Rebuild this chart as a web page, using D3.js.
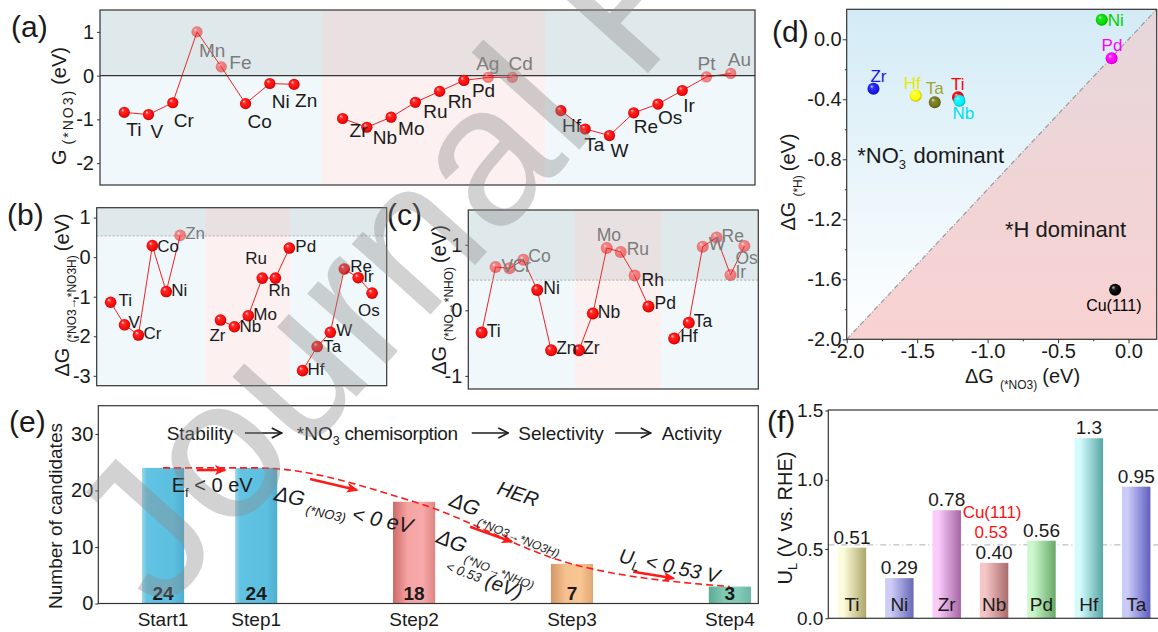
<!DOCTYPE html>
<html><head><meta charset="utf-8">
<script src="https://cdn.jsdelivr.net/npm/d3@7"></script>
<style>
body{margin:0;background:#fff;}
svg{display:block;font-family:"Liberation Sans",Arial,sans-serif;}
</style></head><body>
<svg id="chart" width="1158" height="632"></svg>
<script>
// ================= DATA =================
// (a) G(*NO3)
const aNames3d = ["Ti","V","Cr","Mn","Fe","Co","Ni","Zn"];
const aVals3d  = [-0.84,-0.89,-0.62,1.00,0.20,-0.64,-0.18,-0.20];
const aPos3d   = [0,1,2,3,4,5,6,7];
const aNames4d = ["Zr","Nb","Mo","Ru","Rh","Pd","Ag","Cd"];
const aVals4d  = [-0.98,-1.18,-0.95,-0.61,-0.36,-0.11,-0.04,-0.04];
const aPos4d   = [9,10,11,12,13,14,15,16];
const aNames5d = ["Hf","Ta","W","Re","Os","Ir","Pt","Au"];
const aVals5d  = [-0.80,-1.22,-1.37,-0.85,-0.65,-0.34,-0.03,0.05];
const aPos5d   = [18,19,20,21,22,23,24,25];
const aFaded   = ["Mn","Fe","Ag","Cd","Pt","Au"];
const aFadedLabels = ["Mn","Fe","Ag","Cd","Pt","Au"];
const aTicks   = [-2,-1,0,1];

// (b) dG(*NO3 -> *NO3H)
const bNames3d = ["Ti","V","Cr","Co","Ni","Zn"];
const bVals3d  = [-1.14,-1.71,-1.97,0.29,-0.87,0.55];
const bPos3d   = [0,1,2,3,4,5];
const bNames4d = ["Zr","Nb","Mo","Ru","Rh","Pd"];
const bVals4d  = [-1.59,-1.76,-1.48,-0.53,-0.53,0.23];
const bPos4d   = [7.9,8.9,9.9,10.9,11.85,12.85];
const bNames5d = ["Hf","Ta","W","Re","Ir","Os"];
const bVals5d  = [-2.87,-2.26,-1.90,-0.30,-0.52,-0.91];
const bPos5d   = [13.8,14.85,15.8,16.8,17.8,18.8];
const bFaded   = ["Zn"];
const bFadedLabels = ["Zn"];
const bTicks   = [-3,-2,-1,0,1];

// (c) dG(*NO -> *NHO)
const cNames3d = ["Ti","V","Cr","Co","Ni","Zn"];
const cVals3d  = [-0.34,0.66,0.64,0.77,0.31,-0.61];
const cPos3d   = [0,1,2,3,4,5];
const cNames4d = ["Zr","Nb","Mo","Ru","Rh","Pd"];
const cVals4d  = [-0.61,-0.05,0.95,0.89,0.53,0.06];
const cPos4d   = [7,8,9,10,11,12];
const cNames5d = ["Hf","Ta","W","Re","Ir","Os"];
const cVals5d  = [-0.43,-0.19,0.97,1.11,0.54,0.98];
const cPos5d   = [13.85,14.9,15.9,16.9,17.9,18.9];
const cFaded   = ["V","Cr","Co","Mo","Ru","Rh","W","Re","Ir","Os"];
const cFadedLabels = ["V","Cr","Co","Mo","Ru","W","Re","Ir","Os"];
const cTicks   = [-1,0,1];

// (d) dG(*NO3) vs dG(*H)
const dNames  = ["Zr","Hf","Ta","Ti","Nb","Ni","Pd","Cu(111)"];
const dXvals  = [-1.81,-1.51,-1.375,-1.21,-1.20,-0.19,-0.12,-0.095];
const dYvals  = [-0.33,-0.376,-0.42,-0.387,-0.41,0.13,-0.127,-1.67];
const dColors = ["#1818f0","#ffff00","#77771a","#ff0000","#00f0ff","#00e000","#ff00ff","#000000"];
const dLabelColors = ["#1818f0","#e8e800","#a3a336","#ff0000","#00e0f0","#00d000","#ff00ff","#000000"];
const dXTicks = [-2.0,-1.5,-1.0,-0.5,0.0];
const dYTicks = [-2.0,-1.6,-1.2,-0.8,-0.4,0.0];

// (e) screening funnel
const eCats   = ["Start1","Step1","Step2","Step3","Step4"];
const ePos    = [0.41,1,2,3,4];
const eVals   = [24,24,18,7,3];
const eTicks  = [0,10,20,30];

// (f) limiting potentials
const fNames  = ["Ti","Ni","Zr","Nb","Pd","Hf","Ta"];
const fVals   = [0.51,0.29,0.78,0.40,0.56,1.3,0.95];
const fLabels = ["0.51","0.29","0.78","0.40","0.56","1.3","0.95"];
const fRef    = 0.53;
const fTicks  = [0.0,0.5,1.0,1.5];

// ================= LAYOUT / STYLE =================
const aLab = {Ti:[2,24],V:[2,23],Cr:[1,24],Mn:[2,25],Fe:[8,2],Co:[2,24],Ni:[2,24],Zn:[1,23],
  Zr:[7,18],Nb:[6,17],Mo:[7,18],Ru:[8,16],Rh:[8,17],Pd:[8,17],Ag:[-12,-7],Cd:[-4,-7],
  Hf:[1,21],Ta:[-1,22],W:[1,21],Re:[0,20],Os:[0,20],Ir:[1,21],Pt:[-9,-7],Au:[-3,-7]};
const bLab = {Ti:[8,4],V:[4,3],Cr:[5,4],Co:[5,6],Ni:[5,4],Zn:[5,4],Zr:[-11,21],Nb:[5,5],Mo:[5,4],
  Ru:[-17,-14],Rh:[-7,18],Pd:[6,4],Hf:[5,4],Ta:[6,5],W:[6,4],Re:[6,3],Ir:[5,4],Os:[-14,23]};
const cLab = {Ti:[5,4],V:[6,5],Cr:[3,4],Co:[5,2],Ni:[6,4],Zn:[5,4],Zr:[4,4],Nb:[5,4],Mo:[-10,-7],
  Ru:[6,3],Rh:[7,10],Pd:[6,3],Hf:[6,3],Ta:[5,4],W:[6,3],Re:[5,4],Ir:[5,3],Os:[-9,18]};
const dLab = [[-3,-7],[-12,-7],[-9,-8],[-7,-7],[-7,18],[6,6],[-10,-7],[-29,21]];

const W = 1158, H = 632;
const svg = d3.select("#chart");
const defs = svg.append("defs");
svg.append("rect").attr("width", W).attr("height", H).attr("fill", "#fff");
const TXT = "#1a1a1a";

const gradDone = {};
function ball(color){
  const key = "ball" + color.replace(/[^0-9a-z]/gi, "");
  if(!gradDone[key]){
    const g = defs.append("radialGradient").attr("id", key)
      .attr("cx","50%").attr("cy","50%").attr("r","55%").attr("fx","33%").attr("fy","28%");
    g.append("stop").attr("offset","0%").attr("stop-color", d3.interpolateRgb(color,"#fff")(0.85));
    g.append("stop").attr("offset","28%").attr("stop-color", d3.interpolateRgb(color,"#fff")(0.12));
    g.append("stop").attr("offset","70%").attr("stop-color", color);
    g.append("stop").attr("offset","100%").attr("stop-color", d3.color(color).darker(1.1).formatHex());
    gradDone[key] = true;
  }
  return `url(#${key})`;
}
function hGrad(id, stops){
  const g = defs.append("linearGradient").attr("id", id).attr("x1","0%").attr("x2","100%").attr("y1","0%").attr("y2","0%");
  stops.forEach(([o,c]) => g.append("stop").attr("offset", o).attr("stop-color", c));
  return `url(#${id})`;
}
function vGrad(id, stops){
  const g = defs.append("linearGradient").attr("id", id).attr("x1","0%").attr("x2","0%").attr("y1","0%").attr("y2","100%");
  stops.forEach(([o,c]) => g.append("stop").attr("offset", o).attr("stop-color", c));
  return `url(#${id})`;
}
function rich(sel, parts){
  parts.forEach(p => {
    const ts = sel.append("tspan").text(p.t).attr("font-size", p.s);
    if(p.dy) ts.attr("dy", p.dy);
    if(p.dx) ts.attr("dx", p.dx);
    if(p.it) ts.attr("font-style", "italic");
    if(p.ls) ts.attr("letter-spacing", p.ls);
    if(p.fw) ts.attr("font-weight", p.fw);
  });
  return sel;
}
function yLabel(x, yc, parts){
  const t = svg.append("text").attr("transform", `translate(${x},${yc}) rotate(-90)`)
    .attr("text-anchor","middle").attr("fill", TXT);
  rich(t, parts);
}
function panelLetter(txt, x, y){
  svg.append("text").attr("x", x).attr("y", y).attr("font-size", 30).attr("fill", TXT).text(txt);
}
function styleAxis(g, fs){
  g.select(".domain").remove();
  g.selectAll(".tick line").attr("stroke", "#333");
  g.selectAll(".tick text").attr("font-size", fs).attr("fill", TXT)
    .attr("font-family", '"Liberation Sans", Arial, sans-serif');
}

// ================= ELEMENT PANELS (a),(b),(c) =================
function elemPanel(cfg){
  const x = d3.scaleLinear().domain(cfg.xDomain).range([cfg.left, cfg.right]);
  const y = d3.scaleLinear().domain(cfg.yDomain).range([cfg.bottom, cfg.top]);
  const g = svg.append("g");
  const bounds = [cfg.xDomain[0], ...cfg.sections, cfg.xDomain[1]];
  const secColors = ["#f0f8fc", "#fcf0f0", "#f0f8fc"];
  for(let i = 0; i < 3; i++){
    g.append("rect").attr("x", x(bounds[i])).attr("y", cfg.top)
      .attr("width", x(bounds[i+1]) - x(bounds[i])).attr("height", cfg.bottom - cfg.top)
      .attr("fill", secColors[i]);
  }
  const groups = cfg.groups.map(gr => gr.names.map((n,i) => ({n, x: gr.pos[i], v: gr.vals[i],
    faded: cfg.faded.includes(n), fadedLab: cfg.fadedLabels.includes(n)})));
  groups.forEach(pts => {
    g.append("path").datum(pts)
      .attr("d", d3.line().x(d => x(d.x)).y(d => y(d.v)))
      .attr("fill","none").attr("stroke","#f42020").attr("stroke-width", 1);
  });
  g.append("rect").attr("x", cfg.left).attr("y", cfg.top)
    .attr("width", cfg.right - cfg.left).attr("height", y(cfg.threshold) - cfg.top)
    .attr("fill", "#7f8a8a").attr("opacity", 0.15);
  const th = g.append("line").attr("x1", cfg.left).attr("x2", cfg.right)
    .attr("y1", y(cfg.threshold)).attr("y2", y(cfg.threshold));
  if(cfg.solidThreshold) th.attr("stroke", "#333").attr("stroke-width", 1.2);
  else th.attr("stroke", "#b8b8b8").attr("stroke-width", 1.2).attr("stroke-dasharray", "2,2");
  const all = groups.flat();
  g.selectAll("circle.pt").data(all).join("circle").attr("class","pt")
    .attr("cx", d => x(d.x)).attr("cy", d => y(d.v)).attr("r", cfg.r)
    .attr("fill", ball("#ff0a0a")).attr("opacity", d => d.faded ? 0.5 : 1);
  g.selectAll("text.lb").data(all).join("text").attr("class","lb")
    .attr("x", d => x(d.x) + cfg.lab[d.n][0]).attr("y", d => y(d.v) + cfg.lab[d.n][1])
    .attr("font-size", cfg.fs).attr("fill", d => d.fadedLab ? "#7c7c7c" : TXT).text(d => d.n);
  g.append("rect").attr("x", cfg.left).attr("y", cfg.top)
    .attr("width", cfg.right - cfg.left).attr("height", cfg.bottom - cfg.top)
    .attr("fill","none").attr("stroke","#333").attr("stroke-width", 1.2);
  const ax = g.append("g").attr("transform", `translate(${cfg.left},0)`)
    .call(d3.axisLeft(y).tickValues(cfg.ticks).tickSize(3).tickPadding(3).tickFormat(d => String(d)));
  styleAxis(ax, 20);
}

elemPanel({left:100, right:755, top:10, bottom:185, xDomain:[-1,26], yDomain:[-2.5,1.5],
  sections:[8.15,17.37], threshold:0, solidThreshold:true, r:5.6, fs:19, lab:aLab, ticks:aTicks,
  faded:aFaded, fadedLabels:aFadedLabels,
  groups:[{names:aNames3d,vals:aVals3d,pos:aPos3d},{names:aNames4d,vals:aVals4d,pos:aPos4d},{names:aNames5d,vals:aVals5d,pos:aPos5d}]});
elemPanel({left:96.7, right:386.7, top:207.7, bottom:385.7, xDomain:[-1,19.85], yDomain:[-3.25,1.25],
  sections:[6.8,12.95], threshold:0.54, solidThreshold:false, r:5.8, fs:17, lab:bLab, ticks:bTicks,
  faded:bFaded, fadedLabels:bFadedLabels,
  groups:[{names:bNames3d,vals:bVals3d,pos:bPos3d},{names:bNames4d,vals:bVals4d,pos:bPos4d},{names:bNames5d,vals:bVals5d,pos:bPos5d}]});
elemPanel({left:468.3, right:758.3, top:210, bottom:389, xDomain:[-0.96,19.9], yDomain:[-1.2,1.53],
  sections:[6.71,12.95], threshold:0.46, solidThreshold:false, r:6, fs:17.5, lab:cLab, ticks:cTicks,
  faded:cFaded, fadedLabels:cFadedLabels,
  groups:[{names:cNames3d,vals:cVals3d,pos:cPos3d},{names:cNames4d,vals:cVals4d,pos:cPos4d},{names:cNames5d,vals:cVals5d,pos:cPos5d}]});

panelLetter("(a)", 11, 37);
panelLetter("(b)", 7, 225);
panelLetter("(c)", 387, 225);
yLabel(66, 106, [{t:"G",s:20},{t:"(*NO3)",s:14,dx:5,dy:7,ls:2},{t:"(eV)",s:20,dx:4,dy:-7}]);
yLabel(69, 295, [{t:"ΔG",s:20},{t:"(*NO3→*NO3H)",s:12,dx:5,dy:7},{t:"(eV)",s:20,dx:4,dy:-7}]);
yLabel(446, 300, [{t:"ΔG",s:20},{t:"(*NO→*NHO)",s:12,dx:5,dy:7},{t:"(eV)",s:20,dx:4,dy:-7}]);

// ================= (d) =================
(function(){
  const L = 846.7, R = 1156.7, T = 9.3, B = 339.3;
  const x = d3.scaleLinear().domain([-2, 0.2]).range([L, R]);
  const y = d3.scaleLinear().domain([-2, 0.2]).range([B, T]);
  const g = svg.append("g");
  const [x0, x1] = x.domain(), [y0, y1] = y.domain();
  g.append("rect").attr("x", L).attr("y", T).attr("width", R - L).attr("height", B - T)
    .attr("fill", vGrad("dBlue", [["0%","#d3ebf6"],["100%","#ffffff"]]));
  const tri = [[x0,y0],[x1,y0],[x1,y1]];
  g.append("path").attr("d", d3.line().x(d => x(d[0])).y(d => y(d[1]))(tri) + "Z")
    .attr("fill", vGrad("dPink", [["0%","#e6d7db"],["100%","#f9d2d2"]]));
  g.append("line").attr("x1", x(x0)).attr("y1", y(y0)).attr("x2", x(x1)).attr("y2", y(y1))
    .attr("stroke", "#9a9a9a").attr("stroke-width", 1.2).attr("stroke-dasharray", "5,2,1,2");
  const pts = dNames.map((n,i) => ({n, x: dXvals[i], y: dYvals[i], c: dColors[i], lc: dLabelColors[i], off: dLab[i]}));
  g.selectAll("circle").data(pts).join("circle")
    .attr("cx", d => x(d.x)).attr("cy", d => y(d.y)).attr("r", 6).attr("fill", d => ball(d.c));
  g.selectAll("text.lb").data(pts).join("text").attr("class","lb")
    .attr("x", d => x(d.x) + d.off[0]).attr("y", d => y(d.y) + d.off[1])
    .attr("font-size", d => d.n === "Cu(111)" ? 16 : 17).attr("fill", d => d.lc).text(d => d.n);
  const t1 = g.append("text").attr("x", 857.3).attr("y", 162.7).attr("fill", TXT);
  rich(t1, [{t:"*NO",s:22},{t:"3",s:13,dy:6},{t:"-",s:13,dx:-7,dy:-15},{t:" dominant",s:22,dx:4,dy:9}]);
  g.append("text").attr("x", 1005).attr("y", 236.7).attr("font-size", 22).attr("fill", TXT).text("*H dominant");
  g.append("rect").attr("x", L).attr("y", T).attr("width", R - L).attr("height", B - T)
    .attr("fill","none").attr("stroke","#333").attr("stroke-width",1.2);
  const ay = g.append("g").attr("transform", `translate(${L},0)`)
    .call(d3.axisLeft(y).tickValues(dYTicks).tickSize(4).tickPadding(1).tickFormat(d => d.toFixed(1)));
  styleAxis(ay, 20);
  const ay2 = g.append("g").attr("transform", `translate(${L},0)`)
    .call(d3.axisLeft(y).tickValues([-1.8,-1.4,-1.0,-0.6,-0.2]).tickSize(2).tickFormat(""));
  styleAxis(ay2, 20);
  const axb = g.append("g").attr("transform", `translate(0,${B})`)
    .call(d3.axisBottom(x).tickValues(dXTicks).tickSize(4).tickPadding(1).tickFormat(d => d.toFixed(1)));
  styleAxis(axb, 20);
  const axb2 = g.append("g").attr("transform", `translate(0,${B})`)
    .call(d3.axisBottom(x).tickValues([-1.75,-1.25,-0.75,-0.25]).tickSize(2).tickFormat(""));
  styleAxis(axb2, 20);
  const xl = g.append("text").attr("x", 965).attr("y", 383).attr("fill", TXT);
  rich(xl, [{t:"ΔG",s:20},{t:"(*NO3)",s:12,dx:6,dy:6},{t:"(eV)",s:20,dx:5,dy:-6}]);
})();
panelLetter("(d)", 772, 42);
yLabel(795, 182, [{t:"ΔG",s:20},{t:"(*H)",s:12,dx:5,dy:7},{t:"(eV)",s:20,dx:4,dy:-7}]);

// ================= (e) =================
(function(){
  const L = 98.3, R = 758.3, T = 405.7, B = 603.5;
  const x = d3.scaleLinear().domain([0, 4.18]).range([L, R]);
  const y = d3.scaleLinear().domain([0, 35]).range([B, T]);
  const g = svg.append("g");
  const bw = x(0.267) - x(0);
  const barFills = [
    hGrad("eb0", [["0%","#9dd6ea"],["12%","#62c3e3"],["75%","#5cbfe0"],["100%","#4eaecf"]]),
    hGrad("eb1", [["0%","#9dd6ea"],["12%","#62c3e3"],["75%","#5cbfe0"],["100%","#4eaecf"]]),
    hGrad("eb2", [["0%","#cf6969"],["35%","#f6a4a4"],["70%","#f8a9a9"],["100%","#dd8585"]]),
    hGrad("eb3", [["0%","#d39766"],["35%","#f6c18f"],["70%","#f9c693"],["100%","#e0a676"]]),
    hGrad("eb4", [["0%","#5dac96"],["35%","#7fc9b3"],["70%","#83ccb7"],["100%","#6bb7a1"]])
  ];
  const data = eCats.map((c,i) => ({c, p: ePos[i], v: eVals[i], f: barFills[i]}));
  g.selectAll("rect.bar").data(data).join("rect").attr("class","bar")
    .attr("x", d => x(d.p) - bw/2).attr("y", d => y(d.v)).attr("width", bw)
    .attr("height", d => y(0) - y(d.v)).attr("fill", d => d.f);
  g.selectAll("text.val").data(data).join("text").attr("class","val")
    .attr("x", d => x(d.p)).attr("y", y(0) - 3.5).attr("text-anchor","middle")
    .attr("font-size", 19).attr("font-weight","bold").attr("fill", TXT).text(d => d.v);
  g.selectAll("text.cat").data(data).join("text").attr("class","cat")
    .attr("x", d => x(d.p)).attr("y", y(0) + 22).attr("text-anchor","middle")
    .attr("font-size", 19).attr("fill", TXT).text(d => d.c);
  g.append("path").datum(data)
    .attr("d", d3.line().curve(d3.curveMonotoneX).x(d => x(d.p)).y(d => y(d.v)))
    .attr("fill","none").attr("stroke","#ff1a1a").attr("stroke-width",1.6).attr("stroke-dasharray","7,4");
  defs.append("marker").attr("id","redHead").attr("viewBox","0 0 12 10").attr("refX",10).attr("refY",5)
    .attr("markerWidth",12).attr("markerHeight",10).attr("markerUnits","userSpaceOnUse").attr("orient","auto")
    .append("path").attr("d","M0,0 L12,5 L0,10 L3,5 Z").attr("fill","#ff1a1a");
  const redArrows = [[0.623,23.62,0.802,23.62],[1.341,22.03,1.637,20.09],[2.354,13.59,2.618,10.94],[3.388,5.63,3.642,4.46]];
  redArrows.forEach(a => {
    g.append("line").attr("x1", x(a[0])).attr("y1", y(a[1])).attr("x2", x(a[2])).attr("y2", y(a[3]))
      .attr("stroke","#ff1a1a").attr("stroke-width",2.6).attr("marker-end","url(#redHead)");
  });
  defs.append("marker").attr("id","blkHead").attr("viewBox","0 0 12 12").attr("refX",11).attr("refY",6)
    .attr("markerWidth",12).attr("markerHeight",12).attr("markerUnits","userSpaceOnUse").attr("orient","auto")
    .append("path").attr("d","M1,1 L11,6 L1,11").attr("fill","none").attr("stroke","#1a1a1a").attr("stroke-width",1.6);
  const hy = 28.93;
  g.append("text").attr("x", x(0.433)).attr("y", y(hy)).attr("font-size",19).attr("fill",TXT).text("Stability");
  const hn = g.append("text").attr("x", x(1.257)).attr("y", y(hy)).attr("fill",TXT);
  rich(hn, [{t:"*NO",s:19},{t:"3",s:12.5,dy:5},{t:" chemisorption",s:19,dy:-5,ls:-0.4}]);
  g.append("text").attr("x", x(2.66)).attr("y", y(hy)).attr("font-size",19).attr("fill",TXT).text("Selectivity");
  g.append("text").attr("x", x(3.568)).attr("y", y(hy)).attr("font-size",19).attr("fill",TXT).text("Activity");
  [[0.929,1.162],[2.365,2.597],[3.273,3.499]].forEach(a => {
    g.append("line").attr("x1", x(a[0])).attr("x2", x(a[1])).attr("y1", y(30.17)).attr("y2", y(30.17))
      .attr("stroke","#1a1a1a").attr("stroke-width",1.6).attr("marker-end","url(#blkHead)");
  });
  const ann = [
    {x:0.465, y:19.78, r:0, parts:[{t:"E",s:20},{t:"f",s:13,dy:5},{t:" < 0 eV",s:20,dy:-5}]},
    {x:1.108, y:18.31, r:12, parts:[{t:"ΔG",s:21,it:1},{t:" (*NO3)",s:13,dy:7,it:1},{t:" < 0 eV",s:21,dy:-3,it:1}]},
    {x:2.518, y:19.4, r:18, parts:[{t:"HER",s:20,it:1}]},
    {x:2.215, y:17.4, r:22, parts:[{t:"ΔG",s:21,it:1},{t:" (*NO3→*NO3H)",s:12,dy:8,it:1}]},
    {x:2.132, y:10.88, r:22, parts:[{t:"ΔG",s:21,it:1},{t:" (*NO→*NHO)",s:12,dy:8,it:1}]},
    {x:2.196, y:5.93, r:20, parts:[{t:"< 0.53",s:13,it:1},{t:" (eV)",s:20,dy:2,it:1}]},
    {x:3.291, y:7.34, r:12, parts:[{t:"U",s:20,it:1},{t:"L",s:13,dy:5,it:1},{t:" < 0.53 V",s:20,dy:-5,it:1}]}
  ];
  ann.forEach(a => {
    const t = g.append("text").attr("transform", `translate(${x(a.x)},${y(a.y)}) rotate(${a.r})`).attr("fill", TXT);
    rich(t, a.parts);
  });
  g.append("rect").attr("x", L).attr("y", T).attr("width", R - L).attr("height", B - T)
    .attr("fill","none").attr("stroke","#333").attr("stroke-width",1.2);
  const ay = g.append("g").attr("transform", `translate(${L},0)`)
    .call(d3.axisLeft(y).tickValues(eTicks).tickSize(3).tickPadding(2).tickFormat(d => String(d)));
  styleAxis(ay, 20);
})();
panelLetter("(e)", 9, 432);
yLabel(62, 516, [{t:"Number of candidates",s:19}]);

// ================= (f) =================
(function(){
  const L = 828.3, R = 1159.9, T = 410, B = 618.3;
  const x = d3.scaleBand().domain(fNames).range([L, R]).paddingInner(0.4).paddingOuter(0.2);
  const y = d3.scaleLinear().domain([0, 1.5]).range([B, 410.5]);
  const g = svg.append("g");
  const fillPairs = [["#fcfcda","#ada66a"],["#cdcdf8","#6767b6"],["#f9cbf9","#a665a6"],["#f5c6c6","#a96a6a"],
                     ["#ccf8cc","#66a866"],["#d3fbfb","#56a6a6"],["#cbcbfa","#5f5fbf"]];
  const data = fNames.map((n,i) => ({n, v: fVals[i], lab: fLabels[i],
    f: hGrad("fb"+i, [["0%",fillPairs[i][0]],["20%",fillPairs[i][0]],["100%",fillPairs[i][1]]])}));
  g.append("line").attr("x1", L).attr("x2", R).attr("y1", y(fRef)).attr("y2", y(fRef))
    .attr("stroke","#b0b0b0").attr("stroke-width",1).attr("stroke-dasharray","6,3,1,3");
  g.selectAll("rect.bar").data(data).join("rect").attr("class","bar")
    .attr("x", d => x(d.n)).attr("y", d => y(d.v)).attr("width", x.bandwidth())
    .attr("height", d => y(0) - y(d.v)).attr("fill", d => d.f);
  g.selectAll("text.val").data(data).join("text").attr("class","val")
    .attr("x", d => x(d.n) + x.bandwidth()/2).attr("y", d => y(d.v) - 4).attr("text-anchor","middle")
    .attr("font-size", 19).attr("fill", TXT).text(d => d.lab);
  g.selectAll("text.cat").data(data).join("text").attr("class","cat")
    .attr("x", d => x(d.n) + x.bandwidth()/2).attr("y", y(0) - 7).attr("text-anchor","middle")
    .attr("font-size", 19).attr("fill", TXT).text(d => d.n);
  const cx = x("Nb") + x.bandwidth()/2;
  g.append("text").attr("x", cx - 2).attr("y", y(fRef) - 27).attr("text-anchor","middle")
    .attr("font-size", 17).attr("fill","#ff1010").text("Cu(111)");
  g.append("text").attr("x", cx - 3).attr("y", y(fRef) - 7).attr("text-anchor","middle")
    .attr("font-size", 17).attr("fill","#ff1010").text(fRef.toFixed(2));
  g.append("rect").attr("x", L).attr("y", T).attr("width", R - L).attr("height", B - T)
    .attr("fill","none").attr("stroke","#333").attr("stroke-width",1.2);
  const ay = g.append("g").attr("transform", `translate(${L},0)`)
    .call(d3.axisLeft(y).tickValues(fTicks).tickSize(3).tickPadding(2).tickFormat(d => d.toFixed(1)));
  styleAxis(ay, 19);
})();
panelLetter("(f)", 767, 432);
yLabel(792, 518, [{t:"U",s:20},{t:"L",s:13,dy:5},{t:" (V vs. RHE)",s:20,dy:-5}]);

// ================= watermark =================
svg.append("text").attr("transform","translate(161,614) rotate(-48)")
  .attr("font-size", 200).attr("fill", "#8c8c8c").attr("opacity", 0.38).text("Journal Pre-proof");
</script>
</body></html>
